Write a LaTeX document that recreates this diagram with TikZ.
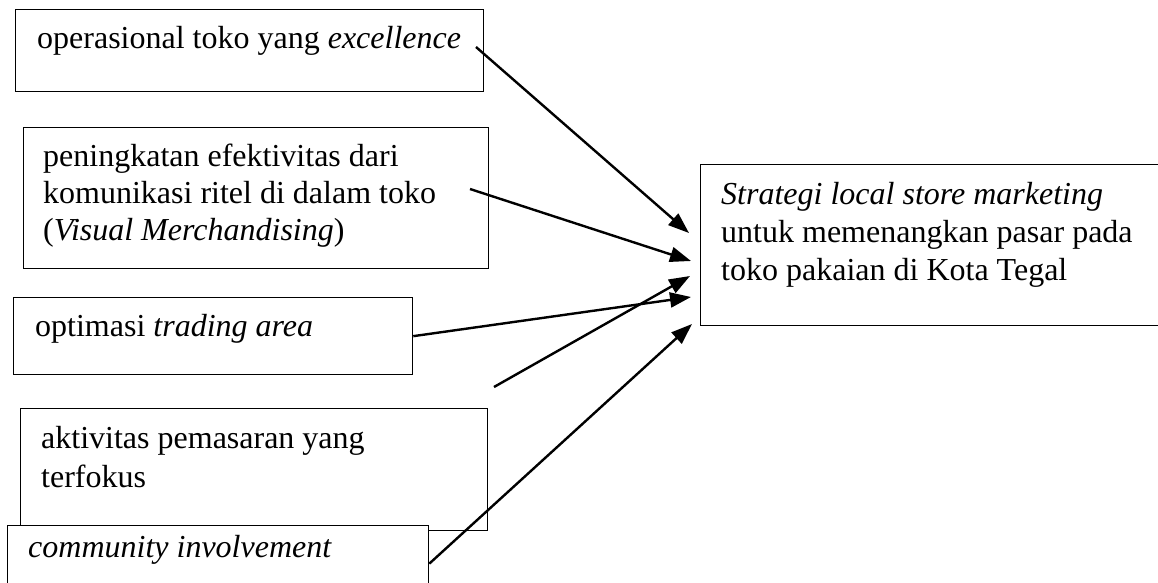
\documentclass[tikz,border=0pt]{standalone}
\usepackage{fontspec}
\setmainfont{Liberation Serif}
\usetikzlibrary{arrows.meta}
\begin{document}
\begin{tikzpicture}[x=1pt,y=-1pt,
  box/.style={draw=black, line width=1.3pt, fill=white, rectangle, inner sep=0pt, anchor=north west},
  txt/.style={anchor=base west, inner sep=0pt, font=\fontsize{32}{37}\selectfont},
  conn/.style={line width=2.4pt, -{Triangle[length=21pt,width=15pt]}, shorten >=0pt}
]
\useasboundingbox (0,0) rectangle (1158,583);
\clip (0,0) rectangle (1158,583);
\fill[white] (0,0) rectangle (1158,583);

% boxes
\node[box, minimum width=468pt, minimum height=82pt] (b1) at (15,9) {};
\node[box, minimum width=465pt, minimum height=141pt] (b2) at (23,127) {};
\node[box, minimum width=399pt, minimum height=77pt] (b3) at (13,297) {};
\node[box, minimum width=467pt, minimum height=122pt] (b4) at (20,408) {};
\node[box, minimum width=500pt, minimum height=161pt] (goal) at (700,164) {};

% texts
\node[txt] (t1) at (37,49) {operasional toko yang \textit{excellence}};
\node[txt] (t2a) at (43,166) {peningkatan efektivitas dari};
\node[txt] (t2b) at (43,203) {komunikasi ritel di dalam toko};
\node[txt] (t2c) at (43,240) {(\textit{Visual Merchandising})};
\node[txt] (t3) at (35,336) {optimasi \textit{trading area}};
\node[txt] (t4a) at (41,448) {aktivitas pemasaran yang};
\node[txt] (t4b) at (41,487) {terfokus};
\node[txt] (g1) at (721,204) {\textit{Strategi local store marketing}};
\node[txt] (g2) at (721,242) {untuk memenangkan pasar pada};
\node[txt] (g3) at (721,280) {toko pakaian di Kota Tegal};

% connector endpoints
\coordinate (s1) at (476,47);
\coordinate (s2) at (470,189);
\coordinate (s4) at (494,387);
\coordinate (e1) at (689,233);
\coordinate (e2) at (691,261);
\coordinate (e3) at (691,297);
\coordinate (e4) at (690,276);
\coordinate (e5) at (692,324);

\draw[conn] (s1) -- (e1);
\draw[conn] (s2) -- (e2);
\draw[conn] (b3.east) -- (e3);
\draw[conn] (s4) -- (e4);

% community box drawn over box 4
\node[box, minimum width=421pt, minimum height=76pt] (b5) at (7,525) {};
\node[txt] (t5) at (28,557) {\textit{community involvement}};
\draw[conn] (b5.east) -- (e5);
\end{tikzpicture}
\end{document}
